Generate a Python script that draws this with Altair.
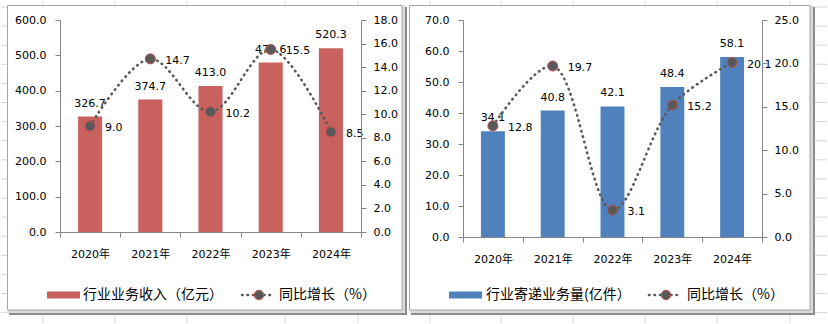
import altair as alt
import pandas as pd

# ---------------- data ----------------
years = ["2020年", "2021年", "2022年", "2023年", "2024年"]
revenue = [326.7, 374.7, 413.0, 479.6, 520.3]          # 行业业务收入（亿元）
revenue_growth = [9.0, 14.7, 10.2, 15.5, 8.5]           # 同比增长（%）
volume = [34.1, 40.8, 42.1, 48.4, 58.1]                 # 行业寄递业务量(亿件）
volume_growth = [12.8, 19.7, 3.1, 15.2, 20.1]           # 同比增长（%）

left_y_ticks = [0, 100, 200, 300, 400, 500, 600]
left_y2_ticks = [0, 2, 4, 6, 8, 10, 12, 14, 16, 18]
right_y_ticks = [0, 10, 20, 30, 40, 50, 60, 70]
right_y2_ticks = [0, 5, 10, 15, 20, 25]

left_legend = ["行业业务收入（亿元）", "同比增长（%）"]
right_legend = ["行业寄递业务量(亿件）", "同比增长（%）"]

# ---------------- style ----------------
FONT = "DejaVu Sans, Noto Sans CJK SC"
CJK = "Noto Sans CJK SC"
LINE_COLOR = "#595959"
MARKER_EDGE = "#C0504D"
GRID = "#D0D7E5"
AXIS_COLOR = "#868686"

one = pd.DataFrame({"k": [0]})


def panel(values, growth, bar_color, ydom, yticks, y2dom, y2ticks, legend,
          origin, size, extent, frame, vgrid_abs, lg):
    ox, oy = origin
    w, h = size
    ex0, ex1 = extent
    L = lambda ax: ax - ox
    T = lambda ay: ay - oy

    df = pd.DataFrame({"year": years, "value": values, "growth": growth})

    # --- decoration: sheet background + grid + chart frame ---
    bg = alt.Chart(one).mark_rect(color="white").encode(
        x=alt.value(L(ex0)), x2=alt.value(L(ex1)),
        y=alt.value(T(0)), y2=alt.value(T(324)))
    hg_rows = pd.DataFrame({"gy": [T(7 + 19.1 * k) for k in range(17)]})
    hgrid = alt.Chart(hg_rows).mark_rule(color=GRID, strokeWidth=1).encode(
        y=alt.Y("gy:Q", scale=None, axis=None),
        x=alt.value(L(ex0) + 1), x2=alt.value(L(ex1) - 1))
    vg_rows = pd.DataFrame({"gx": [L(v) for v in vgrid_abs]})
    vgrid = alt.Chart(vg_rows).mark_rule(color=GRID, strokeWidth=1).encode(
        x=alt.X("gx:Q", scale=None, axis=None),
        y=alt.value(T(1)), y2=alt.value(T(323)))
    fx0, fy0, fx1, fy1 = frame
    shadow = alt.Chart(one).mark_rect(color="#8C8C8C").encode(
        x=alt.value(L(fx0 + 2)), x2=alt.value(L(fx1)),
        y=alt.value(T(fy0 + 2)), y2=alt.value(T(fy1)))
    shade = alt.Chart(one).mark_rect(color="#D9D9D9").encode(
        x=alt.value(L(fx0 + 0.5)), x2=alt.value(L(fx1 - 2)),
        y=alt.value(T(fy0 + 0.5)), y2=alt.value(T(fy1 - 2)))
    box = alt.Chart(one).mark_rect(color="white", stroke="#A6A6A6", strokeWidth=1).encode(
        x=alt.value(L(fx0 + 0.5)), x2=alt.value(L(fx1 - 5)),
        y=alt.value(T(fy0 + 0.5)), y2=alt.value(T(fy1 - 5)))

    # --- legend ---
    sx0, sx1, tx1, lx0, lx1, cx, tx2, ly = lg
    sw = alt.Chart(one).mark_rect(color=bar_color).encode(
        x=alt.value(L(sx0)), x2=alt.value(L(sx1)),
        y=alt.value(T(ly - 3.5)), y2=alt.value(T(ly + 3.5)))
    st = alt.Chart(one).mark_text(text=legend[0], font=CJK, fontSize=14, align="left",
                                  baseline="middle", color="black").encode(
        x=alt.value(L(tx1)), y=alt.value(T(ly)))
    ll = alt.Chart(one).mark_rule(color=LINE_COLOR, strokeWidth=2.6, strokeDash=[0.5, 5],
                                  strokeCap="round").encode(
        x=alt.value(L(lx0)), x2=alt.value(L(lx1)), y=alt.value(T(ly)))
    lc = alt.Chart(one).mark_circle(size=90, color=LINE_COLOR, opacity=1,
                                    stroke=MARKER_EDGE, strokeWidth=1).encode(
        x=alt.value(L(cx)), y=alt.value(T(ly)))
    lt = alt.Chart(one).mark_text(text=legend[1], font=CJK, fontSize=14, align="left",
                                  baseline="middle", color="black").encode(
        x=alt.value(L(tx2)), y=alt.value(T(ly)))

    # --- data marks ---
    xenc = alt.X("year:N", sort=years, title=None,
                 scale=alt.Scale(paddingInner=0, paddingOuter=0),
                 axis=alt.Axis(labelAngle=0, tickBand="extent", tickSize=5,
                               labelPadding=11, domainColor=AXIS_COLOR,
                               tickColor=AXIS_COLOR, grid=False, zindex=1))
    yenc = alt.Y("value:Q", title=None,
                 scale=alt.Scale(domain=ydom, nice=False, zero=True),
                 axis=alt.Axis(values=yticks, tickCount=len(yticks), format=".1f",
                               tickSize=5, labelPadding=9, domainColor=AXIS_COLOR,
                               tickColor=AXIS_COLOR, grid=False, orient="left",
                               labelOverlap=False, zindex=1))
    bars = alt.Chart(df).mark_bar(color=bar_color, width=alt.RelativeBandSize(0.4)).encode(
        x=xenc, y=yenc)
    blabels = alt.Chart(df).mark_text(baseline="alphabetic", dy=-10, font=FONT,
                                      fontSize=11, color="black").encode(
        x=alt.X("year:N", sort=years), y=alt.Y("value:Q"),
        text=alt.Text("value:Q", format=".1f"))
    y2enc = alt.Y("growth:Q", title=None,
                  scale=alt.Scale(domain=y2dom, nice=False, zero=True),
                  axis=alt.Axis(values=y2ticks, tickCount=len(y2ticks), format=".1f",
                                tickSize=5, labelPadding=7, domainColor=AXIS_COLOR,
                                tickColor=AXIS_COLOR, grid=False, orient="right",
                                labelOverlap=False, zindex=1))
    line = alt.Chart(df).mark_line(interpolate="catmull-rom", color=LINE_COLOR,
                                   strokeWidth=2.6, strokeDash=[0.5, 5],
                                   strokeCap="round").encode(
        x=alt.X("year:N", sort=years), y=y2enc)
    pts = alt.Chart(df).mark_circle(size=100, color=LINE_COLOR, opacity=1,
                                    stroke=MARKER_EDGE, strokeWidth=1).encode(
        x=alt.X("year:N", sort=years), y=alt.Y("growth:Q"))
    glabels = alt.Chart(df).mark_text(align="left", baseline="middle", dx=15, dy=2,
                                      font=FONT, fontSize=11, color="black").encode(
        x=alt.X("year:N", sort=years), y=alt.Y("growth:Q"),
        text=alt.Text("growth:Q", format=".1f"))

    left = alt.layer(bars, blabels)
    right = alt.layer(line, pts, glabels)
    return alt.layer(bg, hgrid, vgrid, shadow, shade, box, sw, st, ll, lc, lt,
                     left, right).resolve_scale(y="independent").properties(
        width=w, height=h)


p1 = panel(revenue, revenue_growth, "#C9625F", [0, 600], left_y_ticks,
           [0, 18], left_y2_ticks, left_legend,
           origin=(60, 20), size=(301, 212), extent=(0, 407),
           frame=(7, 5, 407, 315),
           vgrid_abs=[43, 115, 187, 285, 358],
           lg=(47, 80, 83, 242, 275, 259, 279, 295))
p2 = panel(volume, volume_growth, "#4F81BD", [0, 70], right_y_ticks,
           [0, 25], right_y2_ticks, right_legend,
           origin=(463, 20), size=(299, 217), extent=(409, 828),
           frame=(409, 5, 815, 315),
           vgrid_abs=[430, 501, 573, 645, 717, 790],
           lg=(449, 482, 486, 649, 682, 666, 687, 295))

chart = alt.hconcat(p1, p2, spacing=2).properties(
    padding=0, background="white"
).configure_view(stroke=None).configure_axis(
    labelFont=FONT, labelFontSize=11, labelColor="black", zindex=1,
    labelOverlap=False
)

chart.save("out.html", embed_options={"renderer": "svg", "actions": False})
